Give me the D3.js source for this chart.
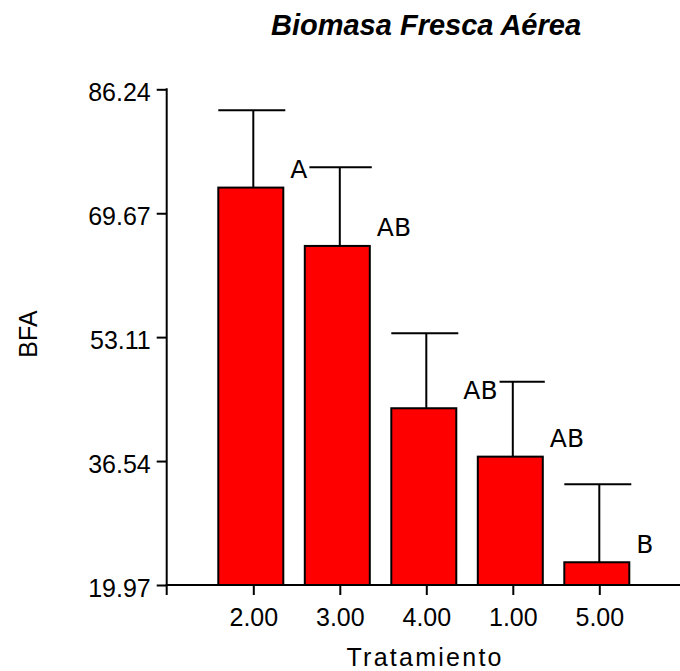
<!DOCTYPE html>
<html>
<head>
<meta charset="utf-8">
<script src="https://cdn.jsdelivr.net/npm/d3@7"></script>
<style>
  html, body { margin: 0; padding: 0; background: #fff; }
  svg { display: block; }
</style>
</head>
<body>
<svg id="chart" width="680" height="671"></svg>
<script>
const categories = ["2.00", "3.00", "4.00", "1.00", "5.00"];
const means = [73.10, 65.30, 43.60, 37.13, 23.01];
const errors = [10.35, 10.52, 10.03, 10.02, 10.43];
const letters = ["A", "AB", "AB", "AB", "B"];
const yTicks = [19.97, 36.54, 53.11, 69.67, 86.24];
const title = "Biomasa Fresca Aérea";
const xTitle = "Tratamiento";
const yTitle = "BFA";

const svg = d3.select("#chart");
const axisX0 = 166.7, axisRight = 682;
const yBase = 585, yTop = 89.3;
const fontMain = "'Liberation Sans', Arial, sans-serif";

const x = d3.scalePoint().domain(categories).range([253.3, 599.3]);
const y = d3.scaleLinear().domain([19.97, 86.24]).range([yBase, yTop]);

const data = categories.map((c, i) => ({ c, m: means[i], e: errors[i], l: letters[i] }));

// bars
const barL = 35, barR = 30, capL = 35, capR = 32;
svg.append("g").selectAll("rect").data(data).join("rect")
  .attr("x", d => x(d.c) - barL)
  .attr("y", d => y(d.m))
  .attr("width", barL + barR)
  .attr("height", d => y(19.97) - y(d.m))
  .attr("fill", "#ff0000")
  .attr("stroke", "#000")
  .attr("stroke-width", 2);

// error bars
const eg = svg.append("g").attr("stroke", "#000").attr("stroke-width", 2);
eg.selectAll("line.v").data(data).join("line").attr("class", "v")
  .attr("x1", d => x(d.c)).attr("x2", d => x(d.c))
  .attr("y1", d => y(d.m)).attr("y2", d => y(d.m + d.e));
eg.selectAll("line.h").data(data).join("line").attr("class", "h")
  .attr("x1", d => x(d.c) - capL).attr("x2", d => x(d.c) + capR)
  .attr("y1", d => y(d.m + d.e)).attr("y2", d => y(d.m + d.e));

// letter labels with white background
const lg = svg.append("g");
data.forEach(d => {
  const g = lg.append("g");
  const bg = g.append("rect").attr("fill", "#fff");
  const t = g.append("text")
    .attr("x", x(d.c) + barR + 7)
    .attr("y", y(d.m) - 9.5)
    .attr("font-family", "'DejaVu Sans', sans-serif")
    .attr("font-size", 25)
    .attr("fill", "#000")
    .text(d.l);
  const bb = t.node().getBBox();
  bg.attr("x", bb.x - 1).attr("y", bb.y).attr("width", bb.width + 3).attr("height", bb.height);
});

// y axis
const yAxis = d3.axisLeft(y).tickValues(yTicks).tickFormat(d3.format(".2f")).tickSize(10).tickSizeOuter(0);
const gy = svg.append("g").attr("transform", `translate(${axisX0},0)`).call(yAxis);
gy.select(".domain").remove();
gy.selectAll(".tick line").attr("stroke", "#000").attr("stroke-width", 2);
gy.selectAll(".tick text")
  .attr("font-family", fontMain).attr("font-size", 25).attr("fill", "#000")
  .attr("x", -16).attr("dy", "0.45em");
svg.append("line").attr("x1", axisX0).attr("x2", axisX0).attr("y1", yTop - 1).attr("y2", yBase + 10)
  .attr("stroke", "#000").attr("stroke-width", 2);

// x axis
const xAxis = d3.axisBottom(x).tickSize(10).tickSizeOuter(0);
const gx = svg.append("g").attr("transform", `translate(0,${yBase})`).call(xAxis);
gx.select(".domain").remove();
gx.selectAll(".tick line").attr("stroke", "#000").attr("stroke-width", 2);
gx.selectAll(".tick text")
  .attr("font-family", fontMain).attr("font-size", 25).attr("fill", "#000")
  .attr("y", 0).attr("dy", 0).attr("transform", "translate(0,40.7)");
svg.append("line").attr("x1", axisX0 - 1).attr("x2", axisRight).attr("y1", yBase).attr("y2", yBase)
  .attr("stroke", "#000").attr("stroke-width", 2);

// titles
svg.append("text")
  .attr("x", 426).attr("y", 35)
  .attr("text-anchor", "middle")
  .attr("font-family", fontMain).attr("font-size", 29)
  .attr("font-weight", "bold").attr("font-style", "italic")
  .attr("fill", "#000")
  .text(title);

svg.append("text")
  .attr("x", 424).attr("y", 666)
  .attr("text-anchor", "middle")
  .attr("font-family", fontMain).attr("font-size", 25)
  .attr("textLength", 155).attr("lengthAdjust", "spacing")
  .attr("fill", "#000")
  .text(xTitle);

svg.append("text")
  .attr("transform", "translate(36.7,334) rotate(-90)")
  .attr("text-anchor", "middle")
  .attr("font-family", fontMain).attr("font-size", 25)
  .attr("fill", "#000")
  .text(yTitle);
</script>
</body>
</html>
